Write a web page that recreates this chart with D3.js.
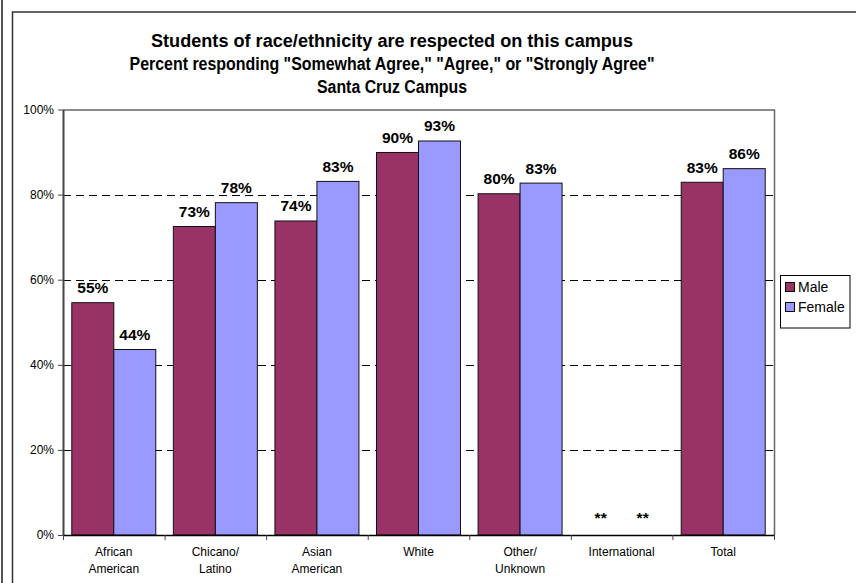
<!DOCTYPE html>
<html><head><meta charset="utf-8">
<script src="https://cdn.jsdelivr.net/npm/d3@7"></script>
<style>body{margin:0;background:#fff}svg{display:block;font-family:"Liberation Sans",Arial,sans-serif}</style>
</head><body><svg id="c" width="856" height="583"></svg>
<script>
const categories = [["African","American"],["Chicano/","Latino"],["Asian","American"],["White"],["Other/","Unknown"],["International"],["Total"]];
const seriesNames = ["Male","Female"];
const maleValues = [54.6, 72.5, 73.8, 89.9, 80.2, null, 82.9];
const femaleValues = [43.6, 78.1, 83.1, 92.6, 82.7, null, 86.1];
const yTicks = [0,20,40,60,80,100];
const colors = ["#993366","#9999FF"];
const missingLabel = "**";
const title = ["Students of race/ethnicity are respected on this campus",
 "Percent responding \"Somewhat Agree,\" \"Agree,\" or \"Strongly Agree\"",
 "Santa Cruz Campus"];
const titleWidths = [482, 525, 150];

const svg = d3.select("#c");
const L=63, R=774, T=109.5, B=535;

// outer frames
svg.append("line").attr("x1",2).attr("x2",2).attr("y1",0).attr("y2",583).attr("stroke","#555").attr("stroke-width",2);
svg.append("path").attr("d","M12.5,583 V12 H856").attr("fill","none").attr("stroke","#333").attr("stroke-width",1.5);

const x0 = d3.scaleBand().domain(d3.range(categories.length)).range([L,R]).padding(0);
const inner = 0.827;
const x1 = d3.scaleBand().domain(seriesNames).range([0, x0.bandwidth()*inner]).padding(0);
const off = x0.bandwidth()*(1-inner)/2;
const y = d3.scaleLinear().domain([0,100]).range([B,T]);

// gridlines
svg.append("g").selectAll("line").data(yTicks.filter(t=>t>0&&t<100)).join("line")
  .attr("x1",L).attr("x2",R).attr("y1",d=>Math.round(y(d))+0.5).attr("y2",d=>Math.round(y(d))+0.5)
  .attr("stroke","#000").attr("stroke-dasharray","8,5");
// plot border top/right
svg.append("path").attr("d",`M${L},${T+0.5} H${R+0.5} V${B}`).attr("fill","none").attr("stroke","#666").attr("stroke-width",1.5);

// bars
const data = categories.map((c,i)=>({i, vals:[maleValues[i],femaleValues[i]]}));
const groups = svg.append("g").selectAll("g").data(data).join("g")
  .attr("transform",d=>`translate(${x0(d.i)+off},0)`);
groups.selectAll("rect").data(d=>d.vals.map((v,k)=>({v,k})).filter(e=>e.v!=null)).join("rect")
  .attr("x",e=>x1(seriesNames[e.k])).attr("width",x1.bandwidth())
  .attr("y",e=>y(e.v)).attr("height",e=>y(0)-y(e.v))
  .attr("fill",e=>colors[e.k]).attr("stroke","#111").attr("stroke-width",1);
groups.selectAll("text").data(d=>d.vals.map((v,k)=>({v,k}))).join("text")
  .attr("x",e=>x1(seriesNames[e.k])+x1.bandwidth()/2)
  .attr("y",e=>y(e.v==null?0:e.v)-(e.v==null?12:9.5))
  .attr("text-anchor","middle").attr("font-weight","bold").attr("font-size",15.5)
  .text(e=>e.v==null?missingLabel:Math.round(e.v)+"%");

// y axis
const ya = svg.append("g").attr("transform",`translate(${L},0)`)
  .call(d3.axisLeft(y).tickValues(yTicks).tickFormat(d=>d+"%").tickSize(5).tickPadding(4).tickSizeOuter(0));
ya.select(".domain").attr("stroke","#444").attr("stroke-width",2);
ya.selectAll(".tick line").attr("stroke","#444");
ya.selectAll("text").attr("font-size",12).attr("font-family","Liberation Sans, Arial, sans-serif").attr("fill","#000");

// x axis
const xb = d3.scaleLinear().domain([0,categories.length]).range([L,R]);
const xa = svg.append("g").attr("transform",`translate(0,${B})`)
  .call(d3.axisBottom(xb).tickValues(d3.range(categories.length+1)).tickFormat("").tickSize(5).tickSizeOuter(0));
xa.select(".domain").attr("stroke","#000").attr("stroke-width",1.5);
xa.selectAll(".tick line").attr("stroke","#444");
const cl = svg.append("g").selectAll("text").data(categories).join("text")
  .attr("x",(d,i)=>x0(i)+x0.bandwidth()/2).attr("y",556)
  .attr("text-anchor","middle").attr("font-size",12);
cl.selectAll("tspan").data(d=>d).join("tspan")
  .attr("x",function(){return this.parentNode.getAttribute("x");})
  .attr("dy",(d,i)=>i?16.5:0).text(d=>d);

// title
svg.append("g").selectAll("text").data(title).join("text")
  .attr("x",392).attr("y",(d,i)=>47+i*23).attr("text-anchor","middle")
  .attr("font-weight","bold").attr("font-size",18)
  .attr("textLength",(d,i)=>titleWidths[i]).attr("lengthAdjust","spacingAndGlyphs").text(d=>d);

// legend
const lg = svg.append("g");
lg.append("rect").attr("x",780.5).attr("y",275.5).attr("width",69.5).attr("height",52.5).attr("fill","#fff").attr("stroke","#000");
seriesNames.forEach((s,k)=>{
  lg.append("rect").attr("x",785.5).attr("y",282.5+k*20).attr("width",9).attr("height",9).attr("fill",colors[k]).attr("stroke","#000");
  lg.append("text").attr("x",798).attr("y",292+k*20).attr("font-size",14).text(s);
});
</script></body></html>
